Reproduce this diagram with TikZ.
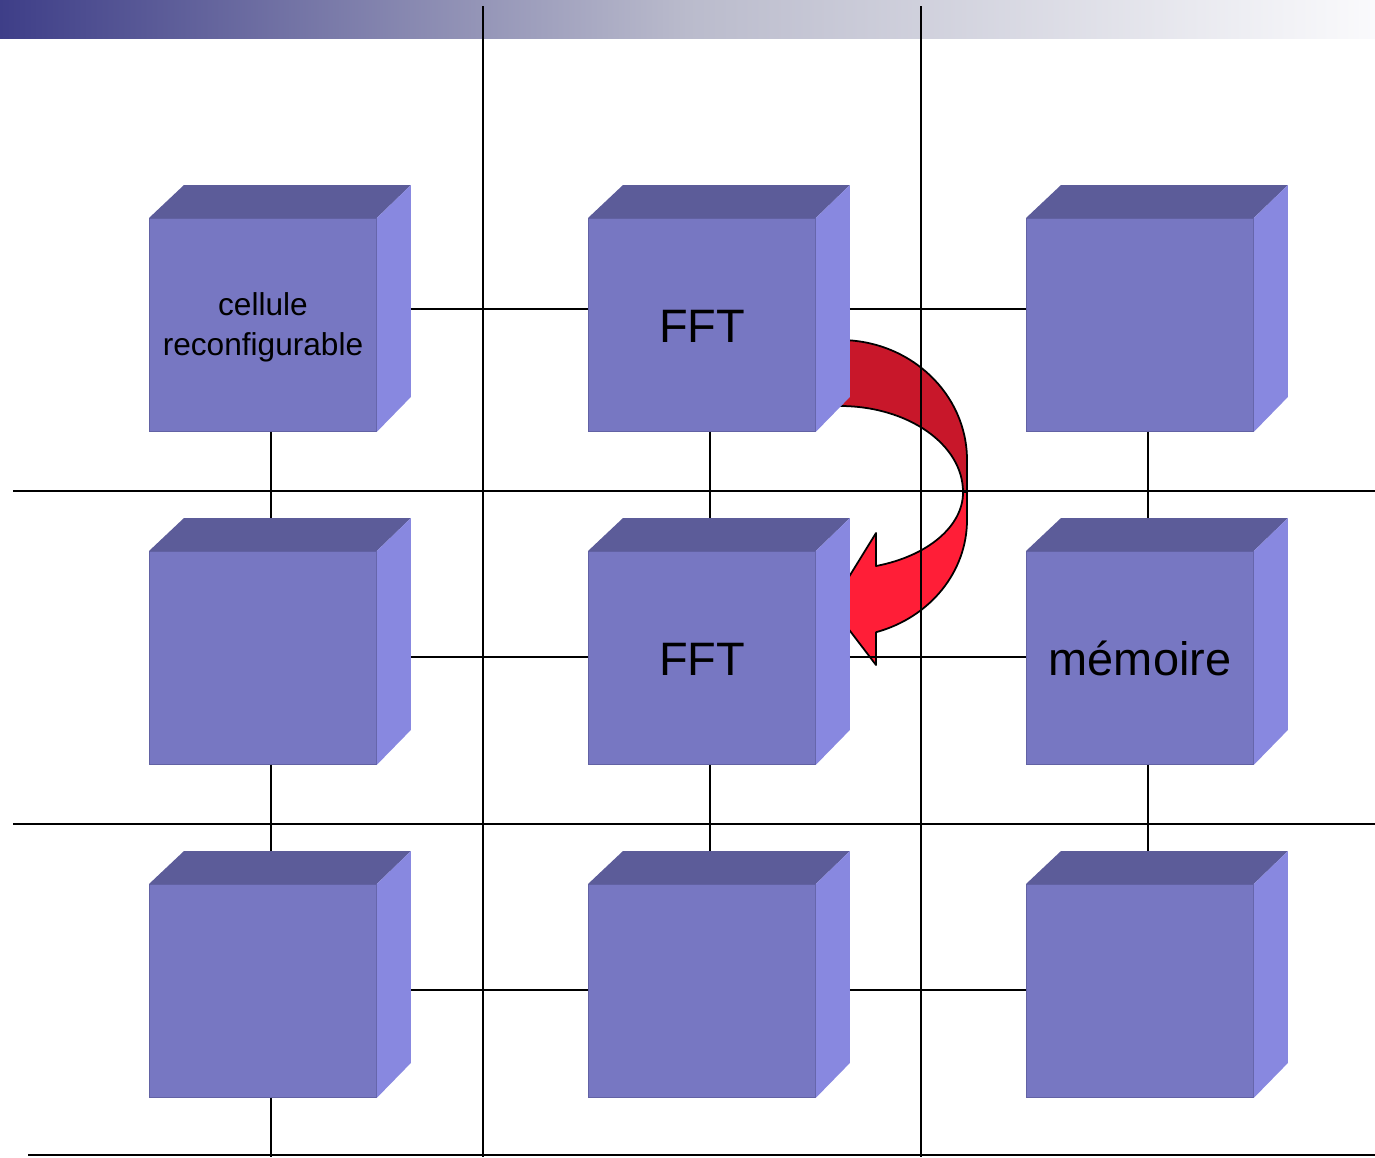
\documentclass[tikz,border=0pt]{standalone}
\usepackage{fontspec}
\setmainfont{Liberation Sans}
\usetikzlibrary{calc}
\definecolor{frontc}{RGB}{119,119,194}
\definecolor{frontb}{RGB}{98,98,164}
\definecolor{topc}{RGB}{92,92,153}
\definecolor{sidec}{RGB}{136,136,224}
\definecolor{darkred}{RGB}{200,23,42}
\definecolor{brightred}{RGB}{255,30,55}
\definecolor{barl}{RGB}{62,62,136}
\definecolor{barm}{RGB}{186,187,204}
\definecolor{barr}{RGB}{250,250,252}
\tikzset{
  front/.style={rectangle, anchor=north west, inner sep=0pt, minimum width=4.54cm, minimum height=4.26cm, fill=frontc, draw=frontb, line width=0.5pt},
  gridline/.style={black, line width=1.1pt},
  conn/.style={black, line width=1.1pt},
  arrowpart/.style={draw=black, line width=1pt, line join=round},
  bigtxt/.style={anchor=base, inner sep=0pt, font=\fontsize{26.7}{30}\selectfont},
  smalltxt/.style={anchor=base, inner sep=0pt, font=\fontsize{18}{21}\selectfont},
}
\newcommand\mycube[3]{%
  \node[front] (#3) at (#1,#2) {};
  \fill[topc] (#3.north west) -- ++(35,-33) -- ($(#3.north east)+(34,-33)$) -- (#3.north east) -- cycle;
  \fill[sidec] (#3.north east) -- ++(34,-33) -- ++(0,212) -- (#3.south east) -- cycle;
}
\begin{document}
\begin{tikzpicture}[x=0.02cm,y=-0.02cm]
\useasboundingbox (0,0) rectangle (1375,1157);
\fill[white] (0,0) rectangle (1375,1157);
% top gradient bar
\shade[left color=barl, right color=barr, middle color=barm] (0,0) rectangle (1375,38);
% red curved arrow
\draw[arrowpart, fill=darkred] (830,340) -- (840,340)
  arc[start angle=-90, end angle=0, x radius=127, y radius=120]
  -- (967,492) -- (963,492)
  arc[start angle=0, end angle=-90, x radius=123, y radius=86]
  -- (830,406) -- cycle;
\draw[arrowpart, fill=brightred] (963,492) -- (967,492) -- (967,520)
  arc[start angle=0, end angle=73.5, x radius=127, y radius=117]
  -- (876,665) -- (831,606) -- (876,533) -- (876,566)
  arc[start angle=73, end angle=0, x radius=123, y radius=77]
  -- cycle;
% grid lines
\coordinate (v1t) at (483,6); \coordinate (v1b) at (483,1157);
\coordinate (v2t) at (921,6); \coordinate (v2b) at (921,1157);
\coordinate (h1l) at (13,491); \coordinate (h1r) at (1375,491);
\coordinate (h2l) at (13,824); \coordinate (h2r) at (1375,824);
\coordinate (h3l) at (28,1155); \coordinate (h3r) at (1375,1155);
\draw[gridline] (v1t) -- (v1b);
\draw[gridline] (v2t) -- (v2b);
\draw[gridline] (h1l) -- (h1r);
\draw[gridline] (h2l) -- (h2r);
\draw[gridline] (h3l) -- (h3r);
% cubes
\mycube{149}{218}{c11}
\mycube{588}{218}{c12}
\mycube{1026}{218}{c13}
\mycube{149}{551}{c21}
\mycube{588}{551}{c22}
\mycube{1026}{551}{c23}
\mycube{149}{884}{c31}
\mycube{588}{884}{c32}
\mycube{1026}{884}{c33}
% horizontal connectors
\draw[conn] ($(c11.north east)+(34,91)$) -- ($(c12.north west)+(0,91)$);
\draw[conn] ($(c12.north east)+(34,91)$) -- ($(c13.north west)+(0,91)$);
\draw[conn] ($(c21.north east)+(34,106)$) -- ($(c22.north west)+(0,106)$);
\draw[conn] ($(c22.north east)+(34,106)$) -- ($(c23.north west)+(0,106)$);
\draw[conn] ($(c31.north east)+(34,106)$) -- ($(c32.north west)+(0,106)$);
\draw[conn] ($(c32.north east)+(34,106)$) -- ($(c33.north west)+(0,106)$);
% vertical connectors
\draw[conn] ($(c11.south west)+(122,0)$) -- ($(c21.north west)+(122,-33)$);
\draw[conn] ($(c12.south west)+(122,0)$) -- ($(c22.north west)+(122,-33)$);
\draw[conn] ($(c13.south west)+(122,0)$) -- ($(c23.north west)+(122,-33)$);
\draw[conn] ($(c21.south west)+(122,0)$) -- ($(c31.north west)+(122,-33)$);
\draw[conn] ($(c22.south west)+(122,0)$) -- ($(c32.north west)+(122,-33)$);
\draw[conn] ($(c23.south west)+(122,0)$) -- ($(c33.north west)+(122,-33)$);
\coordinate (bend) at (271,1157);
\draw[conn] ($(c31.south west)+(122,0)$) -- (bend);
% labels
\node[smalltxt] (t1a) at (263,315) {cellule};
\node[smalltxt] (t1b) at (263,355) {reconfigurable};
\node[bigtxt] (t2) at (702,342) {FFT};
\node[bigtxt] (t3) at (702,675) {FFT};
\node[bigtxt] (t4) at (1140,675) {mémoire};
\end{tikzpicture}
\end{document}
